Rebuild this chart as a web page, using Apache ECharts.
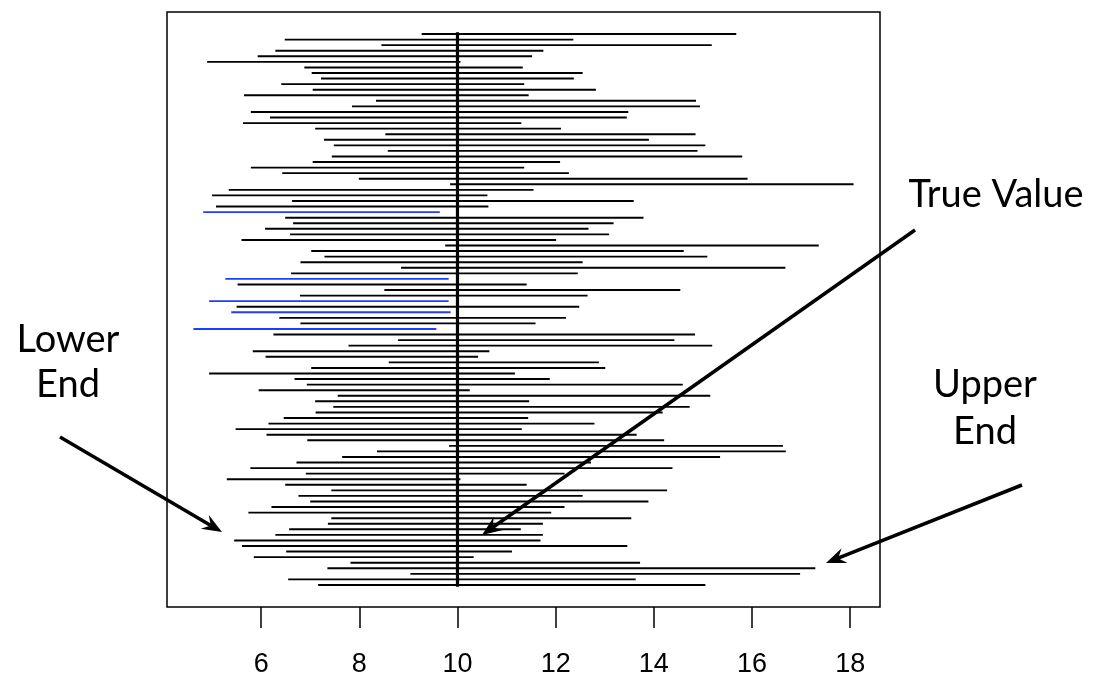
<!DOCTYPE html>
<html>
<head>
<meta charset="utf-8">
<script src="https://cdn.jsdelivr.net/npm/echarts@6/dist/echarts.min.js"></script>
<style>
html,body{margin:0;padding:0;background:#fff;}
#chart{width:1105px;height:684px;}
</style>
</head>
<body>
<div id="chart"></div>
<script>
// Interval lower ends, top (1) to bottom (100)
const lowerEnds = [
  9.27,6.48,8.45,6.29,5.93,4.90,6.88,7.03,7.22,6.41,
  7.05,5.65,8.34,7.85,5.79,6.18,5.63,7.10,8.53,7.28,
  7.48,8.58,7.44,7.05,5.79,6.43,7.99,9.85,5.34,5.00,
  6.63,5.08,4.82,6.49,6.65,6.08,6.59,5.60,9.75,7.02,
  7.29,6.80,8.85,6.61,5.27,5.52,8.51,6.79,4.94,5.50,
  5.39,6.37,6.80,4.62,6.25,8.79,7.78,5.83,6.09,8.60,
  7.02,4.94,6.68,6.93,5.95,7.56,7.10,7.47,7.11,6.46,
  6.15,5.48,6.11,6.94,9.83,8.36,7.65,6.72,5.78,6.91,
  5.30,6.49,7.43,6.76,7.00,6.21,5.74,7.43,7.36,6.57,
  6.29,5.45,5.61,6.51,5.85,7.82,7.35,9.04,6.55,7.16
];
// Interval upper ends, top (1) to bottom (100)
const upperEnds = [
  15.68,12.36,15.18,11.75,11.52,10.06,11.33,12.55,12.37,11.36,
  12.82,11.45,14.86,14.94,13.48,13.45,11.30,12.11,14.85,13.90,
  15.05,14.89,15.80,12.09,11.36,12.27,15.91,18.07,11.55,10.61,
  13.59,10.63,9.64,13.79,13.18,12.67,13.09,12.01,17.36,14.61,
  15.09,12.55,16.68,12.45,9.82,11.41,14.54,12.65,9.82,12.48,
  9.86,12.21,11.59,9.57,14.84,14.42,15.19,10.65,10.42,12.88,
  13.01,11.17,11.88,14.59,10.25,15.15,11.46,14.73,14.18,11.44,
  12.79,11.31,13.65,14.21,16.63,16.69,15.35,12.72,14.38,12.18,
  10.06,11.41,14.27,12.55,13.89,12.18,11.91,13.54,11.74,11.29,
  11.74,11.69,13.46,11.11,10.33,13.72,17.29,16.98,13.63,15.05
];
const trueValue = 10;
const xTicks = [6, 8, 10, 12, 14, 16, 18];
const annotationTexts = ['True Value', 'Lower', 'End', 'Upper', 'End'];

const n = lowerEnds.length;
const xMin = Math.min(...lowerEnds), xMax = Math.max(...upperEnds);
const xPad = (xMax - xMin) * 0.04;
const yPad = (n - 1) * 0.04;

const intervalData = lowerEnds.map((lo, i) => [lo, upperEnds[i], i + 1]);

const chart = echarts.init(document.getElementById('chart'), null, {renderer: 'canvas'});

function arrow(x1, y1, x2, y2) {
  const ang = Math.atan2(y2 - y1, x2 - x1);
  const L = 20, W = 8, notch = 13;
  const cx = Math.cos(ang), sy = Math.sin(ang);
  const bx = x2 - L * cx, by = y2 - L * sy;
  const nx = x2 - notch * cx, ny = y2 - notch * sy;
  const px = -sy, py = cx;
  return [
    {type: 'line', shape: {x1: x1, y1: y1, x2: nx, y2: ny}, style: {stroke: '#000', lineWidth: 3.5}},
    {type: 'polygon', shape: {points: [[x2, y2], [bx + W * px, by + W * py], [nx, ny], [bx - W * px, by - W * py]]}, style: {fill: '#000'}}
  ];
}

const annoFont = 'Lato, "Open Sans", sans-serif';
function txt(x, y, s) {
  return {type: 'text', x: x, y: y, style: {text: s, font: '38px ' + annoFont, fill: '#000', align: 'center', verticalAlign: 'middle'}};
}

chart.setOption({
  animation: false,
  backgroundColor: '#fff',
  grid: {left: 167, top: 12, width: 713, height: 595, show: true, borderColor: '#000', borderWidth: 1.5, backgroundColor: 'transparent'},
  xAxis: {
    type: 'value', min: xMin - xPad, max: xMax + xPad, position: 'bottom',
    axisLine: {show: false, onZero: false},
    splitLine: {show: false},
    axisTick: {show: true, customValues: xTicks, length: 21, lineStyle: {color: '#000', width: 1.5}},
    axisLabel: {customValues: xTicks, margin: 44, color: '#000', fontSize: 27, fontFamily: '"Liberation Sans", Arial, sans-serif'}
  },
  yAxis: {
    type: 'value', min: 1 - yPad, max: n + yPad, inverse: true, show: false
  },
  series: [
    {
      type: 'custom',
      data: intervalData,
      encode: {x: [0, 1], y: 2},
      renderItem: function (params, api) {
        const lo = api.value(0), hi = api.value(1), idx = api.value(2);
        const p1 = api.coord([lo, idx]);
        const p2 = api.coord([hi, idx]);
        const covers = lo <= trueValue && hi >= trueValue;
        return {type: 'line', shape: {x1: p1[0], y1: p1[1], x2: p2[0], y2: p2[1]},
          style: {stroke: covers ? '#000' : '#1f3dff', lineWidth: 1.9}};
      },
      z: 2
    },
    {
      type: 'custom',
      data: [[trueValue, 0.7, n + 0.3]],
      encode: {x: 0, y: [1, 2]},
      renderItem: function (params, api) {
        const p1 = api.coord([api.value(0), api.value(1)]);
        const p2 = api.coord([api.value(0), api.value(2)]);
        return {type: 'line', shape: {x1: p1[0], y1: p1[1], x2: p2[0], y2: p2[1]},
          style: {stroke: '#000', lineWidth: 3.2}};
      },
      z: 3
    }
  ],
  graphic: [
    txt(996, 195, annotationTexts[0]),
    txt(68, 340, annotationTexts[1]),
    txt(68, 385, annotationTexts[2]),
    txt(985, 385, annotationTexts[3]),
    txt(985, 432, annotationTexts[4])
  ].concat(arrow(60, 437, 222, 532))
   .concat(arrow(915, 230, 482, 535))
   .concat(arrow(1022, 485, 826, 563))
});
</script>
</body>
</html>
